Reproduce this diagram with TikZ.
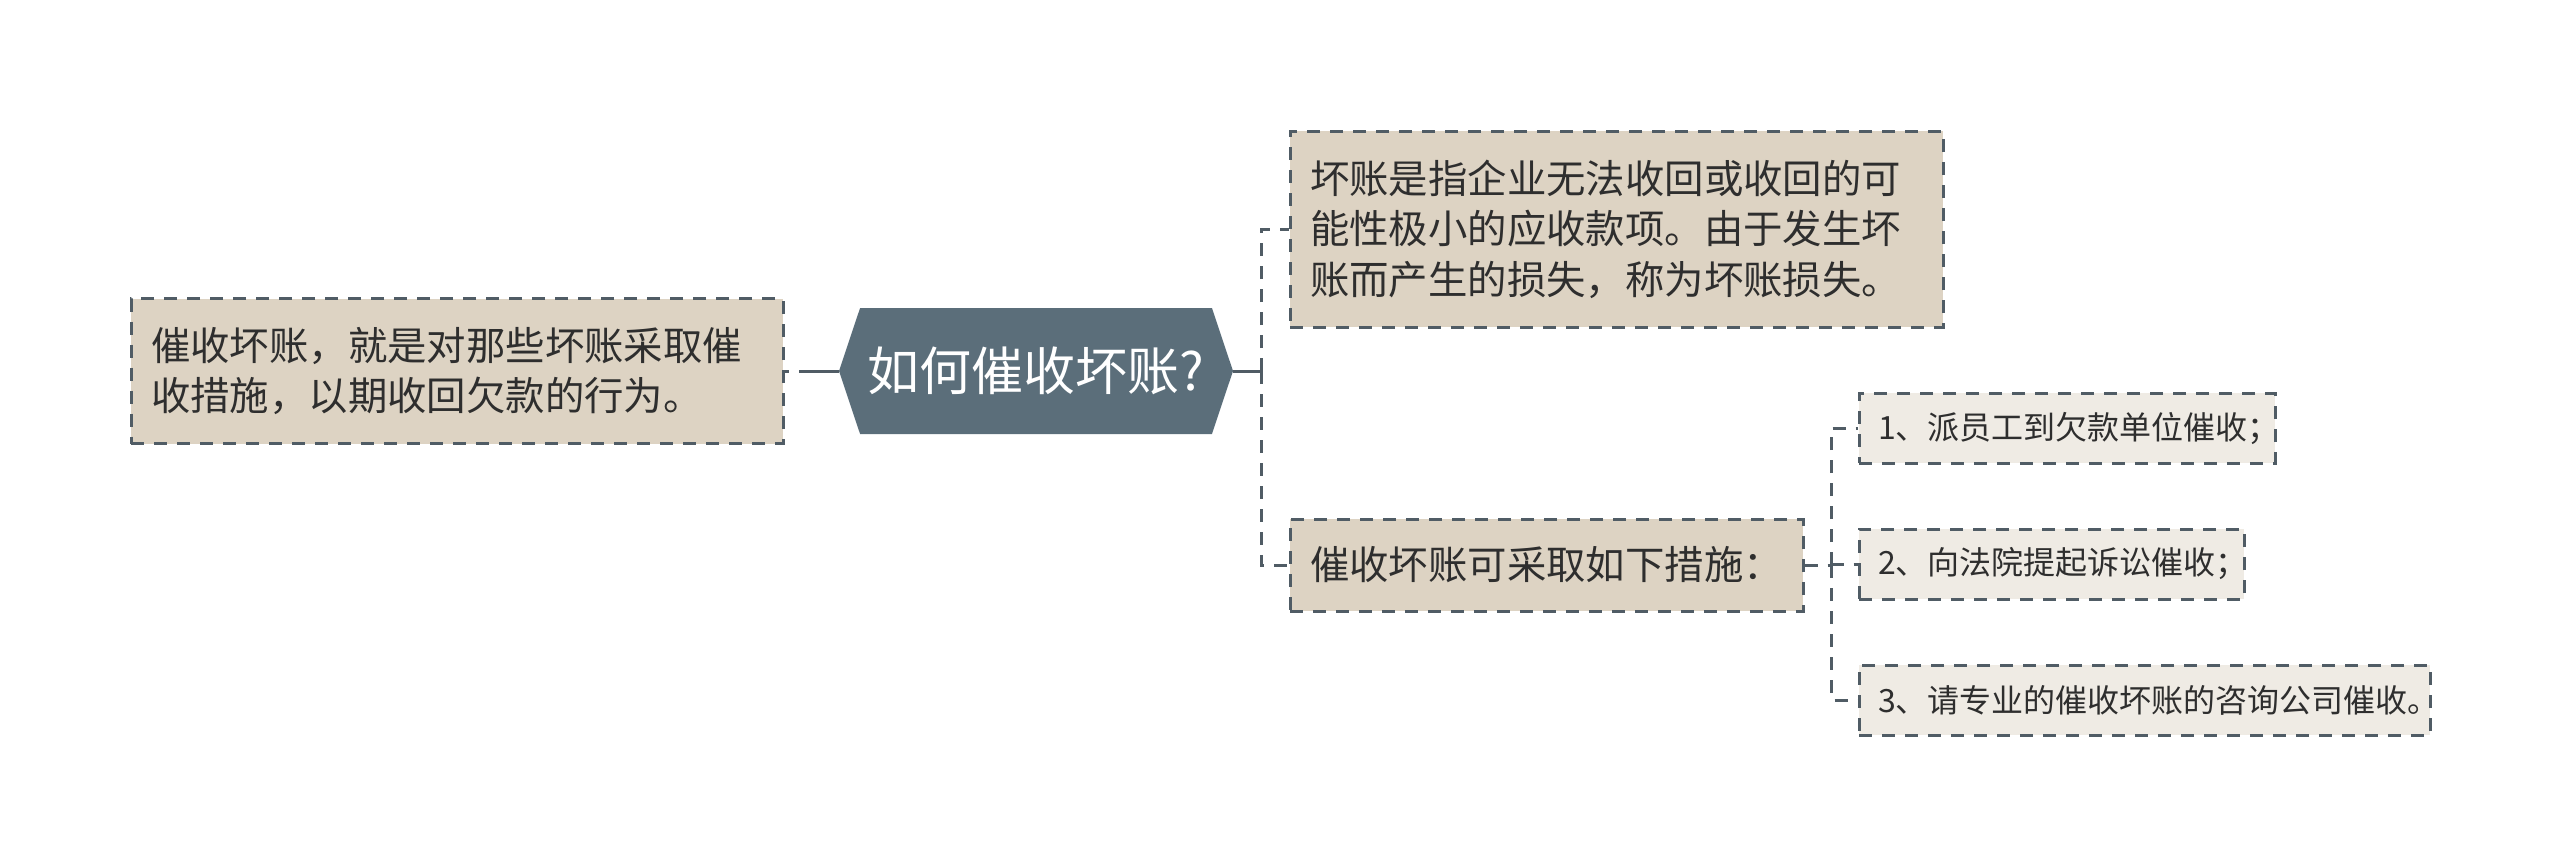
\documentclass[tikz,border=0pt]{standalone}
\usepackage{fontspec}
\setmainfont{Noto Sans CJK SC}
\usepackage{tikz}
\usetikzlibrary{positioning, shapes.symbols}
\usepackage{xcolor}
\definecolor{boxfill}{HTML}{DDD3C3}
\definecolor{itemfill}{HTML}{EFEBE4}
\definecolor{rootfill}{HTML}{5B6E7A}
\definecolor{edgegray}{HTML}{505C65}
\definecolor{textgray}{HTML}{2E2E2E}
\tikzset{%
	topic box/.style={
		draw=edgegray,
		fill=boxfill,
		line width=1.5pt,
		dash pattern=on 6.5pt off 5pt,
		align=left,
		inner xsep=10pt,
		inner ysep=0pt,
		text=textgray,
		font=\fontsize{19.7pt}{25.3pt}\selectfont
	},
	item box/.style={
		topic box,
		fill=itemfill,
		inner xsep=9.5pt,
		minimum height=35pt,
		font=\fontsize{16pt}{20pt}\selectfont
	},
	root node/.style={
		signal,
		signal to=west and east,
		signal pointer angle=143,
		fill=rootfill,
		text=white,
		minimum width=197pt,
		minimum height=63pt,
		inner sep=0pt,
		font=\fontsize{26pt}{30pt}\selectfont
	},
	link/.style={
		draw=edgegray,
		line width=1.5pt,
		dash pattern=on 6.5pt off 5pt
	},
	root link/.style={
		draw=edgegray,
		line width=1.5pt
	},
}

\begin{document}
\begin{tikzpicture}[x=0.5pt, y=-0.5pt]
	\useasboundingbox (0,0) rectangle (2560,867);

	% Draw the central topic
	\node[root node] (root) at (1036,371) {如何催收坏账?};

	% Draw the left topic
	\node[topic box, text width=306pt, minimum height=72.5pt] (meaning) at (457,371)
		{催收坏账，就是对那些坏账采取催\\收措施，以期收回欠款的行为。};

	% Draw the right topics
	\node[topic box, text width=306.5pt, minimum height=98pt] (define) at (1616.5,229)
		{坏账是指企业无法收回或收回的可\\能性极小的应收款项。由于发生坏\\账而产生的损失，称为坏账损失。};
	\node[topic box, text width=236.5pt, minimum height=46pt] (ways) at (1546.5,565)
		{催收坏账可采取如下措施：};

	% Draw the measures
	\node[item box, text width=189pt] (way1) at (2067,428) {1、派员工到欠款单位催收；};
	\node[item box, text width=173.5pt] (way2) at (2051.5,564) {2、向法院提起诉讼催收；};
	\node[item box, text width=266.5pt] (way3) at (2144.5,700) {3、请专业的催收坏账的咨询公司催收。};

	% Draw the connectors
	\coordinate (hubA) at ([xshift=14pt]root.east);
	\coordinate (hubB) at ([xshift=13.5pt]ways.east);
	\draw[link, dash pattern=on 20pt off 5pt] (root.west) -- (meaning.east);
	\draw[root link] (root.east) -- (hubA);
	\draw[link] (hubA) |- (define.west);
	\draw[link] (hubA) |- (ways.west);
	\draw[link] (ways.east) -- (hubB);
	\draw[link] (hubB) |- (way1.west);
	\draw[link] (hubB) |- (way2.west);
	\draw[link] (hubB) |- (way3.west);
\end{tikzpicture}
\end{document}
